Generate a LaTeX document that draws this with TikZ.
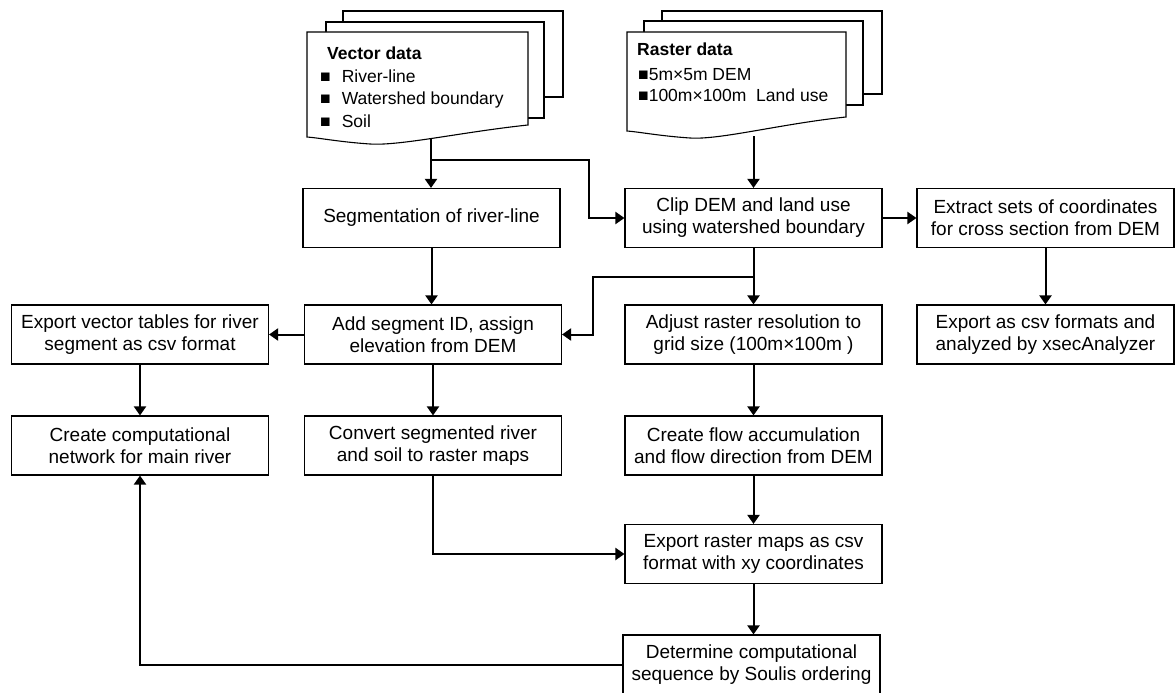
\documentclass[tikz,border=0pt]{standalone}
\usepackage{fontspec}
\setmainfont{Liberation Sans}
\usetikzlibrary{arrows.meta}
\begin{document}
\begin{tikzpicture}[x=1pt,y=-1pt,
  box/.style={draw, line width=1.1pt, fill=white, minimum width=257pt,
    minimum height=59pt, inner sep=0pt, align=center,
    font=\fontsize{19}{22}\selectfont},
  flow/.style={line width=2pt, -{Triangle[width=12pt,length=9pt]}},
  link/.style={line width=2pt},
  page/.style={draw, line width=1.1pt, fill=white, line join=miter},
  doctitle/.style={anchor=base west, inner sep=0pt, font=\bfseries\fontsize{17.5}{20}\selectfont},
  docitem/.style={anchor=base west, inner sep=0pt, font=\fontsize{17.5}{20}\selectfont}]
\useasboundingbox (0,0) rectangle (1176,693);

% ---- stacked document: vector data ----
\draw[page] (343,11) rectangle (563,97);
\draw[page] (326,22) rectangle (544,118);
\draw[page] (307,32) -- (528,32) -- (528,125)
  .. controls (462,132) and (400,146) .. (370,144)
  .. controls (340,142) and (320,138) .. (307,137) -- cycle;
\node[doctitle] (vtitle) at (327,60) {Vector data};
\node[docitem] (v1) at (320,83) {■\hspace{11pt}River-line};
\node[docitem] (v2) at (320,105) {■\hspace{11pt}Watershed boundary};
\node[docitem] (v3) at (320,127) {■\hspace{11pt}Soil};
\coordinate (vecbot) at (431,138);

% ---- stacked document: raster data ----
\draw[page] (662,11) rectangle (882,94);
\draw[page] (644,21) rectangle (863,105);
\draw[page] (627,32) -- (846,32) -- (846,117)
  .. controls (780,124) and (720,140) .. (690,138)
  .. controls (660,136) and (640,132) .. (627,131) -- cycle;
\node[doctitle] (rtitle) at (637,56) {Raster data};
\node[docitem] (r1) at (638,81) {■5m×5m DEM};
\node[docitem] (r2) at (638,102) {■100m×100m\ \ Land use};
\coordinate (rasbot) at (753.5,136);

% ---- process boxes ----
\node[box] (seg)  at (431.5,218)   {Segmentation of river-line};
\node[box] (clip) at (753.5,218)   {Clip DEM and land use\\using watershed boundary};
\node[box] (xsec) at (1045.5,218)  {Extract sets of coordinates\\for cross section from DEM};
\node[box] (expv) at (140,334.5)   {Export vector tables for river\\segment as csv format};
\node[box] (addid) at (433,334.5)  {Add segment ID, assign\\elevation from DEM};
\node[box] (adj)  at (753.5,334.5) {Adjust raster resolution to\\grid size (100m×100m )};
\node[box] (xexp) at (1045.5,334.5) {Export as csv formats and\\analyzed by xsecAnalyzer};
\node[box] (net)  at (140,445.5)   {Create computational\\network for main river};
\node[box] (conv) at (433,445.5)   {Convert segmented river\\and soil to raster maps};
\node[box] (flow) at (753.5,445.5) {Create flow accumulation\\and flow direction from DEM};
\node[box] (expr) at (753.5,554)   {Export raster maps as csv\\format with xy coordinates};
\node[box, minimum height=60pt] (det) at (751.5,665) {Determine computational\\sequence by Soulis ordering};

% ---- connectors ----
\draw[flow] (vecbot) -- (vecbot |- seg.north);
\coordinate (vsplit) at (431,160);
\coordinate (vturn) at (589,160);
\draw[flow] (vsplit) -- (vturn) |- (clip.west);
\draw[flow] (rasbot) -- (clip.north);
\draw[flow] (clip.east) -- (xsec.west);
\draw[flow] (xsec.south) -- (xexp.north);
\draw[flow] (clip.south) -- (adj.north);
\coordinate (csplit) at (753.5,277);
\coordinate (cturn) at (593,277);
\draw[flow] (csplit) -- (cturn) |- (addid.east);
\draw[flow] (seg.south) -- (seg.south |- addid.north);
\draw[flow] (addid.west) -- (expv.east);
\draw[flow] (expv.south) -- (net.north);
\draw[flow] (addid.south) -- (conv.north);
\draw[flow] (adj.south) -- (flow.north);
\draw[flow] (conv.south) |- (expr.west);
\draw[flow] (flow.south) -- (expr.north);
\draw[flow] (expr.south) -- (expr.south |- det.north);
\draw[flow] (det.west) -| (net.south);
\end{tikzpicture}
\end{document}
